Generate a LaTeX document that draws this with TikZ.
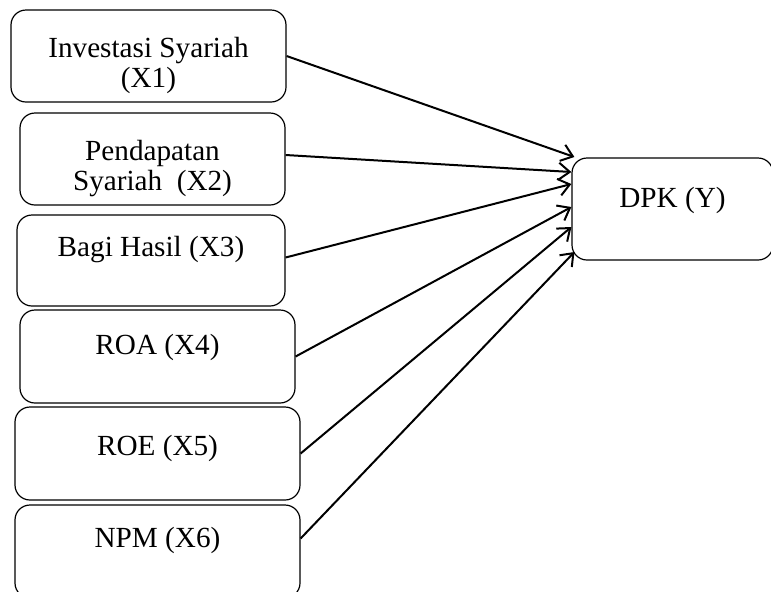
\documentclass[tikz,border=0pt]{standalone}
\usepackage{fontspec}
\setmainfont{Liberation Serif}
\usetikzlibrary{arrows.meta}

\tikzset{
  varbox/.style={draw, line width=0.6pt, rounded corners=7.5pt, align=center, inner sep=0pt, text height=10pt,
    font=\fontsize{14.6}{15}\selectfont},
  arr/.style={line width=1pt, -{Straight Barb[length=5.5pt,width=8.5pt]}}
}

\begin{document}
\begin{tikzpicture}[x=0.5pt, y=-0.5pt]
\useasboundingbox (0,0) rectangle (771,591);

% variabel independen
\node [varbox, minimum width=137.5pt, minimum height=46pt, text height=35pt] (x1) at (148.5,56) {Investasi Syariah\\(X1)};
\node [varbox, minimum width=132.5pt, minimum height=46pt, text height=35pt] (x2) at (152.5,159) {Pendapatan\\Syariah\ \ (X2)};
\node [varbox, minimum width=134pt, minimum height=45.5pt, text depth=14pt] (x3) at (151,260.5) {Bagi Hasil (X3)};
\node [varbox, minimum width=137.5pt, minimum height=46.5pt, text depth=12pt] (x4) at (157.5,356.5) {ROA (X4)};
\node [varbox, minimum width=142.5pt, minimum height=46.5pt, text depth=8pt] (x5) at (157.5,453.5) {ROE (X5)};
\node [varbox, minimum width=142.5pt, minimum height=46.5pt, text depth=14pt] (x6) at (157.5,551.5) {NPM (X6)};

% variabel dependen
\node [varbox, minimum width=100.5pt, minimum height=51pt, text depth=11.5pt] (y) at (672.5,209) {DPK (Y)};

\draw [arr] (x1.east) -- ([xshift=1.5pt, yshift=26pt]y.west);
\draw [arr] ([yshift=2pt]x2.east) -- ([yshift=18.5pt]y.west);
\draw [arr] ([yshift=1.5pt]x3.east) -- ([yshift=12.5pt]y.west);
\draw [arr] (x4.east) -- ([yshift=1pt]y.west);
\draw [arr] (x5.east) -- ([yshift=-9pt]y.west);
\draw [arr] ([yshift=6.5pt]x6.east) -- ([xshift=1.5pt, yshift=-21.5pt]y.west);
\end{tikzpicture}
\end{document}
